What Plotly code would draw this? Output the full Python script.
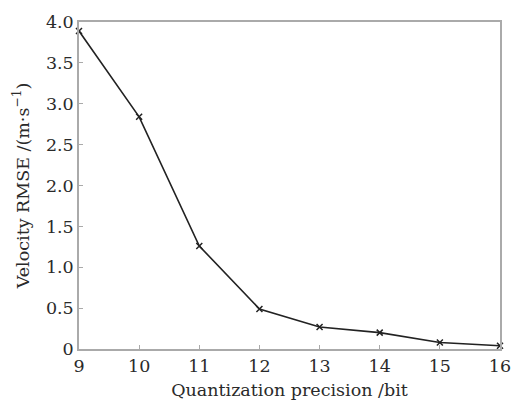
import plotly.graph_objects as go

bits = [9, 10, 11, 12, 13, 14, 15, 16]
rmse = [3.89, 2.84, 1.26, 0.49, 0.27, 0.20, 0.08, 0.04]
x_ticks = [9, 10, 11, 12, 13, 14, 15, 16]
y_ticks = [0, 0.5, 1.0, 1.5, 2.0, 2.5, 3.0, 3.5, 4.0]
y_labels = ["0", "0.5", "1.0", "1.5", "2.0", "2.5", "3.0", "3.5", "4.0"]

fig = go.Figure()
fig.add_trace(go.Scatter(
    x=bits, y=rmse, mode="lines+markers",
    line=dict(color="#222", width=1.6),
    marker=dict(symbol="x-thin", size=6, color="#222", line=dict(color="#222", width=1.5)),
    cliponaxis=False,
))

font = dict(family="DejaVu Serif, Liberation Serif, serif", size=17.5, color="#2a2a2a")
axis_common = dict(
    showline=True, linecolor="#aaa", linewidth=1.5, mirror=True,
    ticks="inside", tickcolor="#aaa", ticklen=4, tickwidth=1,
    showgrid=False, zeroline=False, tickfont=font,
)
fig.update_layout(
    width=523, height=409,
    margin=dict(l=79, r=19, t=13, b=60),
    paper_bgcolor="white", plot_bgcolor="white",
    showlegend=False, font=font,
    xaxis=dict(range=[9, 16], tickvals=x_ticks, title=dict(text="Quantization precision /bit", font=font, standoff=9), **axis_common),
    yaxis=dict(range=[0, 4.0], tickvals=y_ticks, ticktext=y_labels, title=dict(text="Velocity RMSE /(m·s<sup>−1</sup>)", font=font, standoff=12), **axis_common),
)
fig.write_html("out.html")
